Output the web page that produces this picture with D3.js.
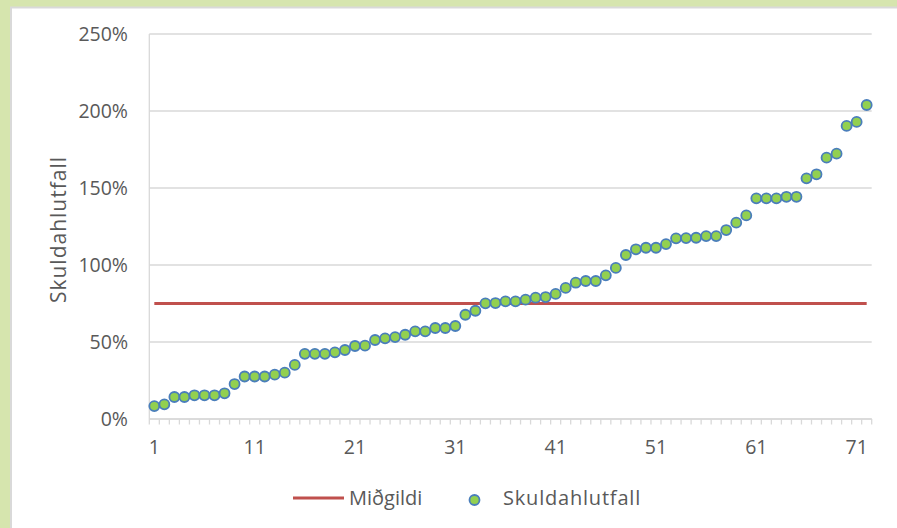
<!DOCTYPE html>
<html>
<head>
<meta charset="utf-8">
<script src="https://cdn.jsdelivr.net/npm/d3@7"></script>
<style>
  html, body { margin: 0; padding: 0; background: #d6e5ae; overflow: hidden; }
  svg { display: block; }
  text { font-family: "Open Sans", sans-serif; fill: #595959; }
</style>
</head>
<body>
<svg id="chart" width="897" height="528"></svg>
<script>
// ---- data ----
const categories = d3.range(1, 73);
const skuldahlutfall = [
  0.084, 0.095, 0.143, 0.143, 0.154, 0.154, 0.154, 0.167, 0.227, 0.276,
  0.276, 0.276, 0.288, 0.301, 0.351, 0.423, 0.423, 0.423, 0.433, 0.448,
  0.474, 0.476, 0.513, 0.524, 0.532, 0.547, 0.569, 0.569, 0.591, 0.591,
  0.604, 0.677, 0.703, 0.751, 0.753, 0.764, 0.764, 0.775, 0.788, 0.792,
  0.812, 0.851, 0.885, 0.896, 0.896, 0.933, 0.981, 1.065, 1.102, 1.112,
  1.112, 1.136, 1.173, 1.175, 1.177, 1.188, 1.188, 1.227, 1.275, 1.322,
  1.433, 1.433, 1.433, 1.443, 1.443, 1.563, 1.589, 1.697, 1.723, 1.903,
  1.929, 2.039
];
const midgildi = [0.75];
const yTicks = [0, 0.5, 1, 1.5, 2, 2.5];
const xTickLabels = [1, 11, 21, 31, 41, 51, 61, 71];
const seriesNames = ["Miðgildi", "Skuldahlutfall"];
const yTitle = "Skuldahlutfall";

// ---- layout ----
const svg = d3.select("#chart");
const plot = { left: 149.3, right: 871.7, top: 34, bottom: 419 };
const gridColor = "#d9d9d9";

// panel
svg.append("rect")
  .attr("x", 11).attr("y", 7.5).attr("width", 900).attr("height", 530)
  .attr("fill", "#ffffff").attr("stroke", "#d9d9d9").attr("stroke-width", 2);

const x = d3.scaleBand().domain(categories).range([plot.left, plot.right]).padding(0);
const y = d3.scaleLinear().domain([0, 2.5]).range([plot.bottom, plot.top]);

// gridlines
svg.append("g").selectAll("line").data(yTicks).join("line")
  .attr("x1", plot.left).attr("x2", plot.right)
  .attr("y1", d => y(d)).attr("y2", d => y(d))
  .attr("stroke", gridColor).attr("stroke-width", 1.3);

// y axis line
svg.append("line")
  .attr("x1", plot.left).attr("x2", plot.left)
  .attr("y1", plot.top).attr("y2", plot.bottom)
  .attr("stroke", gridColor).attr("stroke-width", 1.3);

// y tick labels
svg.append("g").selectAll("text").data(yTicks).join("text")
  .attr("x", 128).attr("y", d => y(d))
  .attr("dy", "0.36em")
  .attr("text-anchor", "end")
  .style("font-size", "19.5px")
  .text(d => d3.format(".0%")(d));

// x axis line + tick marks at band boundaries
svg.append("line")
  .attr("x1", plot.left).attr("x2", plot.right)
  .attr("y1", plot.bottom).attr("y2", plot.bottom)
  .attr("stroke", gridColor).attr("stroke-width", 1.3);
const boundaries = categories.map(c => x(c)).concat([x(categories[categories.length - 1]) + x.bandwidth()]);
svg.append("g").selectAll("line").data(boundaries).join("line")
  .attr("x1", d => d).attr("x2", d => d)
  .attr("y1", plot.bottom).attr("y2", plot.bottom + 5.5)
  .attr("stroke", gridColor).attr("stroke-width", 1.3);

// x tick labels
svg.append("g").selectAll("text").data(xTickLabels).join("text")
  .attr("x", d => x(d) + x.bandwidth() / 2)
  .attr("y", 453.5)
  .attr("text-anchor", "middle")
  .style("font-size", "19.5px")
  .text(d => d);

// y title
svg.append("text")
  .attr("transform", "translate(66," + ((plot.top + plot.bottom) / 2 + 3) + ") rotate(-90)")
  .attr("text-anchor", "middle")
  .style("font-size", "21px")
  .style("letter-spacing", "1px")
  .text(yTitle);

// median line
const xFirst = x(categories[0]) + x.bandwidth() / 2;
const xLast = x(categories[categories.length - 1]) + x.bandwidth() / 2;
svg.append("g").selectAll("line").data(midgildi).join("line")
  .attr("x1", xFirst).attr("x2", xLast)
  .attr("y1", d => y(d)).attr("y2", d => y(d))
  .attr("stroke", "#c0504d").attr("stroke-width", 3.2);

// points
svg.append("g").selectAll("circle").data(skuldahlutfall).join("circle")
  .attr("cx", (d, i) => x(categories[i]) + x.bandwidth() / 2)
  .attr("cy", d => y(d))
  .attr("r", 5)
  .attr("fill", "#92d050")
  .attr("stroke", "#4a7ebb")
  .attr("stroke-width", 1.8);

// legend
const lg = svg.append("g");
lg.append("line").attr("x1", 293).attr("x2", 344).attr("y1", 498).attr("y2", 498)
  .attr("stroke", "#c0504d").attr("stroke-width", 3.2);
lg.append("text").attr("x", 349).attr("y", 504.5).style("font-size", "20px").text(seriesNames[0]);
lg.append("circle").attr("cx", 474.5).attr("cy", 500).attr("r", 5)
  .attr("fill", "#92d050").attr("stroke", "#4a7ebb").attr("stroke-width", 1.8);
lg.append("text").attr("x", 503).attr("y", 504.5).style("font-size", "20px")
  .style("letter-spacing", "0.8px").text(seriesNames[1]);
</script>
</body>
</html>
